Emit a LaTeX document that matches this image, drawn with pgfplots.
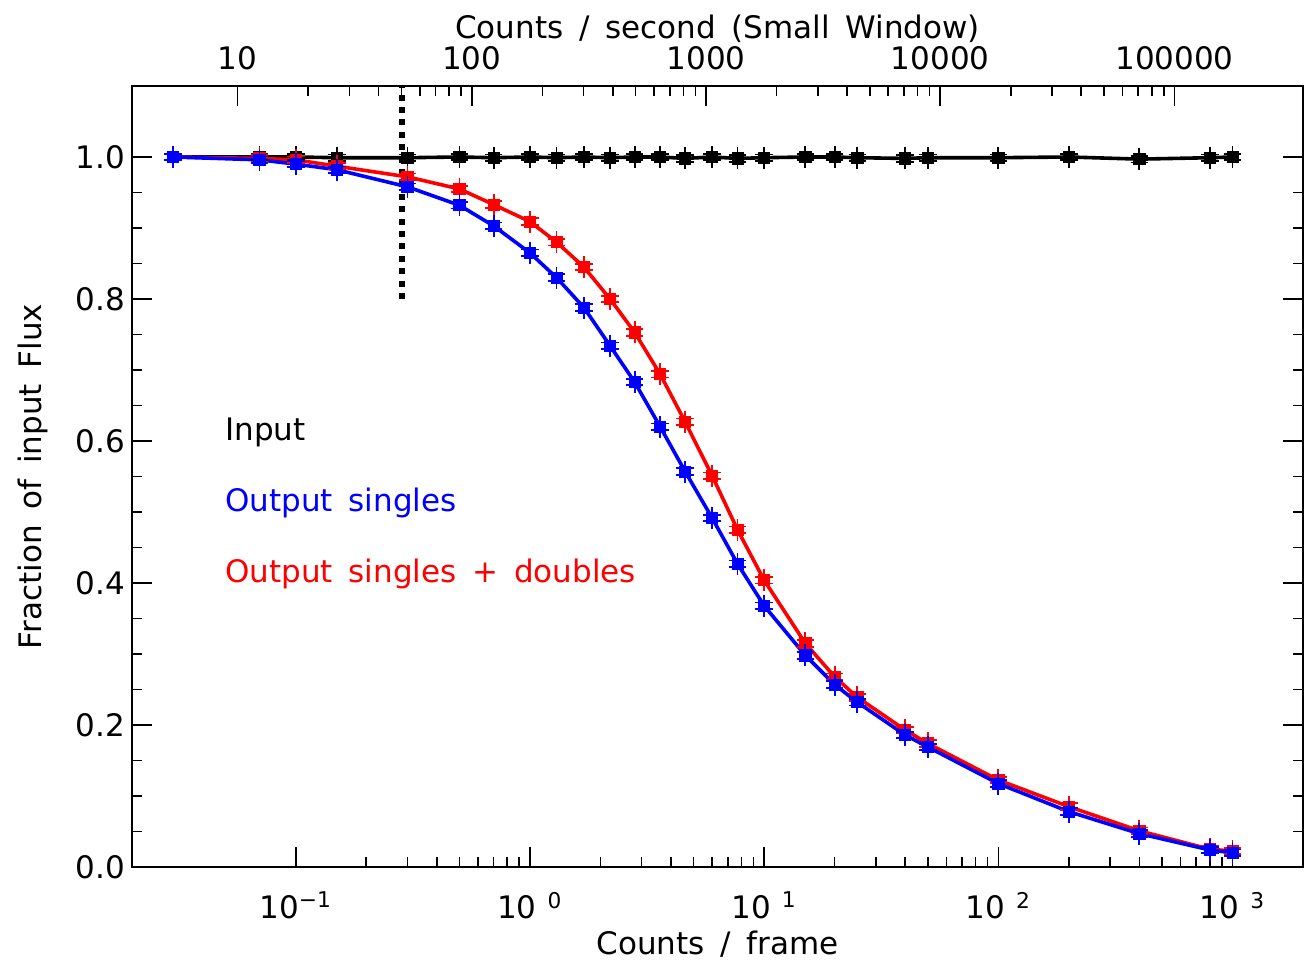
\documentclass[border=0pt]{standalone}
\usepackage{pgfplots}
\pgfplotsset{compat=1.18}
\usepackage{pgfplotstable}
\usepackage{fontspec}
\setmainfont[WordSpace=1.6]{DejaVu Sans}
\usetikzlibrary{calc}

\pgfdeclareplotmark{dplus}{%
 \pgfpathmoveto{\pgfqpoint{0pt}{-\pgfplotmarksize}}%
 \pgfpathlineto{\pgfqpoint{0pt}{\pgfplotmarksize}}%
 \pgfpathmoveto{\pgfqpoint{-0.8\pgfplotmarksize}{0.3\pgfplotmarksize}}%
 \pgfpathlineto{\pgfqpoint{0.8\pgfplotmarksize}{0.3\pgfplotmarksize}}%
 \pgfpathmoveto{\pgfqpoint{-0.8\pgfplotmarksize}{-0.3\pgfplotmarksize}}%
 \pgfpathlineto{\pgfqpoint{0.8\pgfplotmarksize}{-0.3\pgfplotmarksize}}%
 \pgfusepathqstroke}

\pgfplotstableread{
x     inp    sgl     dbl
0.03  1.000  1.000   1.000
0.07  1.000  0.996   0.998
0.1   1.000  0.990   0.996
0.15  0.999  0.982   0.987
0.3   0.999  0.958   0.972
0.5   1.000  0.932   0.955
0.7   0.999  0.903   0.933
1.0   1.000  0.865   0.909
1.3   0.999  0.830   0.880
1.7   1.000  0.788   0.845
2.2   0.999  0.734   0.800
2.8   1.000  0.683   0.753
3.6   1.000  0.620   0.694
4.6   0.998  0.557   0.627
6.0   1.000  0.4915  0.551
7.7   0.998  0.427   0.475
10    0.999  0.368   0.404
15    1.000  0.298   0.315
20    1.000  0.257   0.268
25    0.999  0.232   0.239
40    0.998  0.186   0.193
50    0.999  0.169   0.174
100   0.999  0.1175  0.1225
200   1.000  0.078   0.085
400   0.997  0.047   0.051
800   0.999  0.024   0.025
1000  1.000  0.020   0.0225
}\datatable

\begin{document}
\begin{tikzpicture}
\pgfplotsset{every axis/.append style={
  font=\fontsize{15.5}{18}\selectfont,
  scale only axis, width=585.5pt, height=390.5pt,
  tick align=inside, major tick length=10pt, minor tick length=5pt,
  every tick/.style={black, line width=0.8pt},
  axis line style={line width=1pt},
}}
\begin{axis}[name=ax,
  xmode=log, xmin=0.02, xmax=2000, ymin=0, ymax=1.1,
  xtick={0.1,1,10,100,1000},
  xticklabels={10\textsuperscript{−1},10\textsuperscript{ 0},10\textsuperscript{ 1},10\textsuperscript{ 2},10\textsuperscript{ 3}},
  xtick pos=left,
  xticklabel style={yshift=-9pt},
  ytick={0,0.2,0.4,0.6,0.8,1.0},
  yticklabels={0.0,0.2,0.4,0.6,0.8,1.0},
  minor y tick num=3, ytick pos=both,
  xlabel={Counts / frame},
  xlabel style={yshift=1pt},
  ylabel={Fraction of input Flux},
  ylabel style={yshift=7pt},
  clip=false,
]
\addplot[black, line width=3pt, dash pattern=on 3pt off 3.2pt] coordinates {(0.285,0.8) (0.285,1.1)};
% Input
\addplot[black, line width=1.8pt, mark=dplus, mark size=5.5pt, mark options={line width=0.9pt, solid}] table[x=x,y=inp]{\datatable};
\addplot[black, only marks, mark=square*, mark size=2.8pt] table[x=x,y=inp]{\datatable};
% singles + doubles
\addplot[red, line width=1.8pt, mark=dplus, mark size=5.5pt, mark options={line width=0.9pt, solid}] table[x=x,y=dbl]{\datatable};
\addplot[red, only marks, mark=square*, mark size=2.8pt] table[x=x,y=dbl]{\datatable};
% singles
\addplot[blue, line width=1.8pt, mark=dplus, mark size=5.5pt, mark options={line width=0.9pt, solid}] table[x=x,y=sgl]{\datatable};
\addplot[blue, only marks, mark=square*, mark size=2.8pt] table[x=x,y=sgl]{\datatable};

\node[anchor=west, inner sep=0pt, text=black] at (rel axis cs:0.0794,0.557) {Input};
\node[anchor=west, inner sep=0pt, text=blue] at (rel axis cs:0.0794,0.466) {Output singles};
\node[anchor=west, inner sep=0pt, text=red] at (rel axis cs:0.0794,0.375) {Output singles + doubles};
\end{axis}
\begin{axis}[
  xmode=log, xmin=3.54, xmax=354000, ymin=0, ymax=1.1,
  axis x line*=top, axis y line=none,
  xtick={10,100,1000,10000,100000},
  xticklabels={10,100,1000,10000,100000},
  xticklabel style={yshift=4.5pt},
  xlabel={Counts / second (Small Window)},
  xlabel style={yshift=-5pt},
]
\end{axis}
\pgfresetboundingbox
\path[use as bounding box] ($(ax.south west)+(-66pt,-48pt)$) rectangle ($(ax.north east)+(1pt,43pt)$);
\end{tikzpicture}
\end{document}
